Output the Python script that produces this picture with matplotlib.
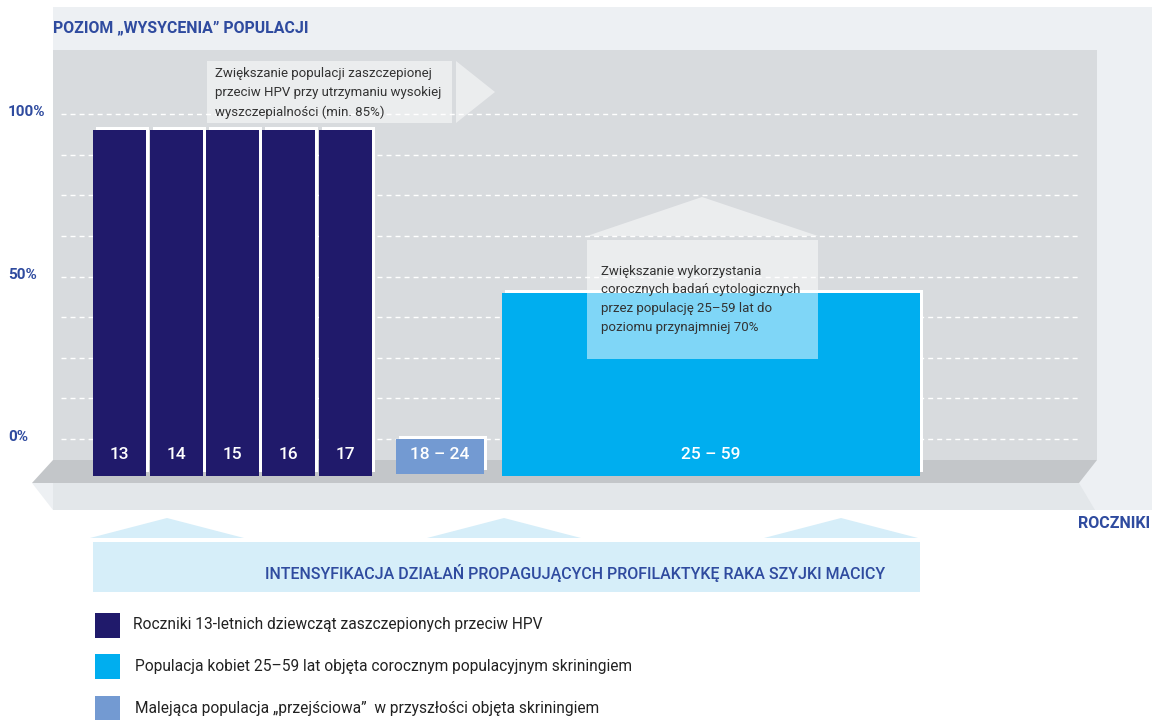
import numpy as np
import matplotlib
matplotlib.use("Agg")
import matplotlib.pyplot as plt
from matplotlib.patches import Polygon, Rectangle
from matplotlib.transforms import ScaledTranslation

# data
vacc_labels = ["13", "14", "15", "16", "17"]
vacc_values = [95, 95, 95, 95, 95]
trans_labels = ["18 – 24"]
trans_values = [0]
screen_labels = ["25 – 59"]
screen_values = [45]

ytick_values = [0, 50, 100]
ytick_labels = ["0%", "50%", "100%"]

legend_labels = [
    "Roczniki 13-letnich dziewcząt zaszczepionych przeciw HPV",
    "Populacja kobiet 25–59 lat objęta corocznym populacyjnym skriningiem",
    "Malejąca populacja „przejściowa”  w przyszłości objęta skriningiem",
]
note1 = ["Zwiększanie populacji zaszczepionej",
         "przeciw HPV przy utrzymaniu wysokiej",
         "wyszczepialności (min. 85%)"]
note2 = ["Zwiększanie wykorzystania",
         "corocznych badań cytologicznych",
         "przez populację 25–59 lat do",
         "poziomu przynajmniej 70%"]

NAVY = "#201a6b"
CYAN = "#00aeef"
LBLUE = "#739ad2"
BLUE_TXT = "#2f4b9f"
DARK_TXT = "#333333"
BODY = ["Roboto", "DejaVu Sans"]

W, H = 1152, 720
fig = plt.figure(figsize=(W / 100, H / 100), dpi=100)

# background decoration in pixel coordinates
bg = fig.add_axes([0, 0, 1, 1], zorder=0)
bg.set_xlim(0, W)
bg.set_ylim(H, 0)
bg.axis("off")
bg.add_patch(Rectangle((53, 7), W - 53, 503, color="#edf0f3", lw=0))
bg.add_patch(Rectangle((53, 50), 1044, 410, color="#d8dbde", lw=0))
bg.add_patch(Polygon([(53, 460), (1097, 460), (1079, 483), (32, 483)],
                     closed=True, color="#c3c6c9", lw=0))
bg.add_patch(Polygon([(53, 483), (1079, 483), (1095, 510), (53, 510)],
                     closed=True, color="#e3e7ea", lw=0))
bg.add_patch(Polygon([(32, 483), (53, 483), (53, 510)],
                     closed=True, color="#edf0f3", lw=0))
for cx in [167, 504, 841]:
    bg.add_patch(Polygon([(cx - 77, 538), (cx, 518), (cx + 77, 538)],
                         closed=True, color="#d6eef9", lw=0))
bg.add_patch(Rectangle((93, 542), 827, 50, color="#d6eef9", lw=0))

bg.text(53, 28, "POZIOM „WYSYCENIA” POPULACJI", family=BODY, weight="bold",
        fontsize=11.4, color=BLUE_TXT, ha="left", va="center")
bg.text(1150, 523, "ROCZNIKI", family=BODY, weight="bold",
        fontsize=11.5, color=BLUE_TXT, ha="right", va="center")
bg.text(575, 573, "INTENSYFIKACJA DZIAŁAŃ PROPAGUJĄCYCH PROFILAKTYKĘ RAKA SZYJKI MACICY",
        family=BODY, weight="medium", fontsize=11.5, color=BLUE_TXT,
        ha="center", va="center")

# bar axes: x in pixels, y in percent (0% at y=439px, 100% at y=114px)
px = 3.25
ax = fig.add_axes([53 / W, 1 - 510 / H, 1044 / W, 460 / H], zorder=1)
ax.patch.set_alpha(0)
ax.set_xlim(53, 1097)
ax.set_ylim((439 - 510) / px, (439 - 50) / px)
for s in ax.spines.values():
    s.set_visible(False)
ax.set_xticks([])

ax.hlines(np.arange(0, 101, 12.5), 61, 1078, colors="white", lw=1,
          linestyles=(0, (3.6, 2.9)), zorder=0.5)

groups = [
    ([119.5, 176.5, 232.5, 288.5, 345.5], 53, vacc_values, vacc_labels, NAVY, 476),
    ([440], 88, trans_values, trans_labels, LBLUE, 474),
    ([711], 418, screen_values, screen_labels, CYAN, 476),
]
for xs, w, vals, labs, col, ybot in groups:
    base = (439 - ybot) / px
    vals = np.array(vals, dtype=float)
    ax.bar(np.array(xs) + 3, vals + 3 / px - (base + 4 / px), w, bottom=base + 4 / px,
           color="white", zorder=1)
    ax.bar(xs, vals - base, w, bottom=base, color=col, zorder=2)
    for x, lab in zip(xs, labs):
        ax.text(x, -4.7, lab, color="white", fontsize=12.5, family=BODY,
                weight="medium", ha="center", va="center", zorder=3)

ax.set_yticks(ytick_values)
ax.set_yticklabels(ytick_labels, family=BODY, weight="bold", fontsize=11,
                   color=BLUE_TXT, ha="left")
ax.tick_params(axis="y", length=0, pad=45 * 0.72)
for lab in ax.get_yticklabels():
    lab.set_transform(lab.get_transform() + ScaledTranslation(0, 3.5 / 100, fig.dpi_scale_trans))

# callouts and legend on top
top = fig.add_axes([0, 0, 1, 1], zorder=2)
top.patch.set_alpha(0)
top.set_xlim(0, W)
top.set_ylim(H, 0)
top.axis("off")

top.add_patch(Rectangle((207, 61), 245, 62, color="white", alpha=0.5, lw=0))
top.add_patch(Polygon([(456, 61), (495, 92), (456, 123)], closed=True,
                      color="white", alpha=0.5, lw=0))
for i, line in enumerate(note1):
    top.text(215, 73 + i * 19.5, line, family=BODY, fontsize=9.5,
             color=DARK_TXT, ha="left", va="center")

top.add_patch(Polygon([(587, 236), (702, 197), (818, 236)], closed=True,
                      color="white", alpha=0.5, lw=0))
top.add_patch(Rectangle((587, 240), 231, 119, color="white", alpha=0.5, lw=0))
for i, line in enumerate(note2):
    top.text(601, 271 + i * 18.7, line, family=BODY, fontsize=9.5,
             color=DARK_TXT, ha="left", va="center")

leg_colors = [NAVY, CYAN, LBLUE]
leg_y = [625, 666, 708]
leg_x = [133, 135, 135]
for col, y, x, lab in zip(leg_colors, leg_y, leg_x, legend_labels):
    top.add_patch(Rectangle((95, y - 12.5), 25, 25, color=col, lw=0))
    top.text(x, y, lab, family=BODY, fontsize=11.2, color="#222222",
             ha="left", va="center")

fig.savefig("out.png", dpi=100)
